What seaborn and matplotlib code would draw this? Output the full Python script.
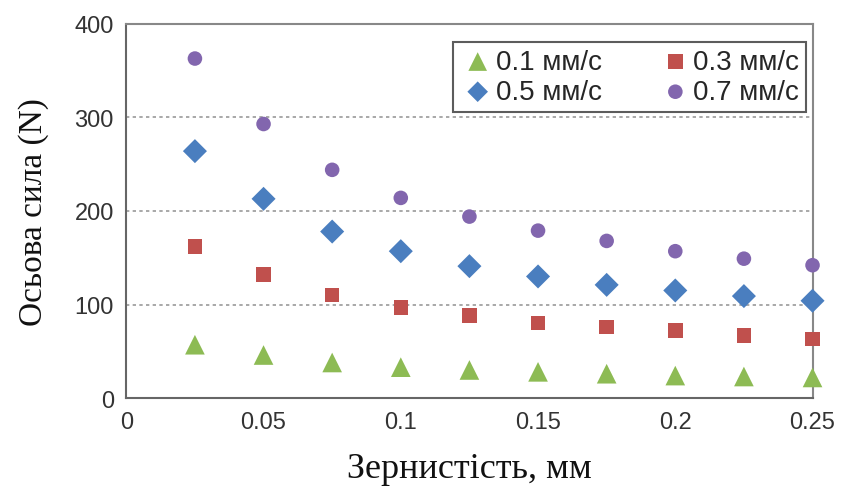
import numpy as np
import pandas as pd
import matplotlib
matplotlib.use("Agg")
import matplotlib.pyplot as plt
import seaborn as sns

grain = [0.025, 0.05, 0.075, 0.1, 0.125, 0.15, 0.175, 0.2, 0.225, 0.25]
force_01 = [57, 46, 38, 33, 30, 28, 26, 24, 23, 22]
force_03 = [162, 132, 110, 97, 88, 80, 76, 72, 67, 63]
force_05 = [264, 213, 178, 157, 141, 130, 121, 115, 109, 104]
force_07 = [363, 293, 244, 214, 194, 179, 168, 157, 149, 142]
labels = ["0.1 мм/с", "0.3 мм/с", "0.5 мм/с", "0.7 мм/с"]
colors = ["#8DBB54", "#C0504D", "#4A7EBF", "#8266AE"]
markers = ["^", "s", "D", "o"]
sizes = [200, 110, 150, 110]

sns.set_theme(style="white")
plt.rcParams['font.family'] = ['Liberation Sans', 'DejaVu Sans']

rows = []
for lab, vals in zip(labels, [force_01, force_03, force_05, force_07]):
    for g, v in zip(grain, vals):
        rows.append({"grain": g, "force": v, "speed": lab})
df = pd.DataFrame(rows)

fig = plt.figure(figsize=(8.42, 4.89), dpi=100)
ax = fig.add_axes([0.150, 0.184, 0.815, 0.765])

for lab, c, m, s in zip(labels, colors, markers, sizes):
    sub = df[df.speed == lab]
    sns.scatterplot(data=sub, x="grain", y="force", ax=ax, color=c, marker=m,
                    s=s, edgecolor="none", label=lab, zorder=3, clip_on=False)

ax.set_xlim(0, 0.25)
ax.set_ylim(0, 400)
ax.set_xticks([0, 0.05, 0.1, 0.15, 0.2, 0.25])
ax.set_xticklabels(["0", "0.05", "0.1", "0.15", "0.2", "0.25"])
ax.set_yticks([0, 100, 200, 300, 400])
for y in [100, 200, 300]:
    ax.axhline(y, color="#9a9a9a", lw=1.2, ls=(0, (2, 2)), zorder=1)
ax.tick_params(axis="both", direction="in", length=5, width=1.2, colors="#555555",
               labelsize=17, labelcolor="#333333", pad=9)
for sp in ax.spines.values():
    sp.set_color("#888888")
    sp.set_linewidth(1.5)
ax.spines["left"].set_color("#666666")
ax.spines["bottom"].set_color("#666666")

ax.set_xlabel("Зернистість, мм", family=["Liberation Serif", "DejaVu Serif"], fontsize=26,
              color="#111111", labelpad=14)
ax.set_ylabel("Осьова сила (N)", family=["Liberation Serif", "DejaVu Serif"], fontsize=24,
              color="#111111", labelpad=18)

handles, labs = ax.get_legend_handles_labels()
order = [0, 2, 1, 3]
leg = ax.legend([handles[i] for i in order], [labs[i] for i in order],
                loc="upper right", ncol=2, frameon=True, fancybox=False,
                bbox_to_anchor=(0.991, 0.952), borderaxespad=0.0,
                handletextpad=0.0, columnspacing=2.0,
                borderpad=0.25, labelspacing=0.15, handlelength=1.3,
                prop={"family": ["Liberation Sans", "DejaVu Sans"], "size": 20})
leg.get_frame().set_edgecolor("#333333")
leg.get_frame().set_linewidth(1.5)
for h, s in zip(leg.legend_handles, [180, 110, 120, 110]):
    h.set_sizes([s])

fig.savefig("out.png", dpi=100)
